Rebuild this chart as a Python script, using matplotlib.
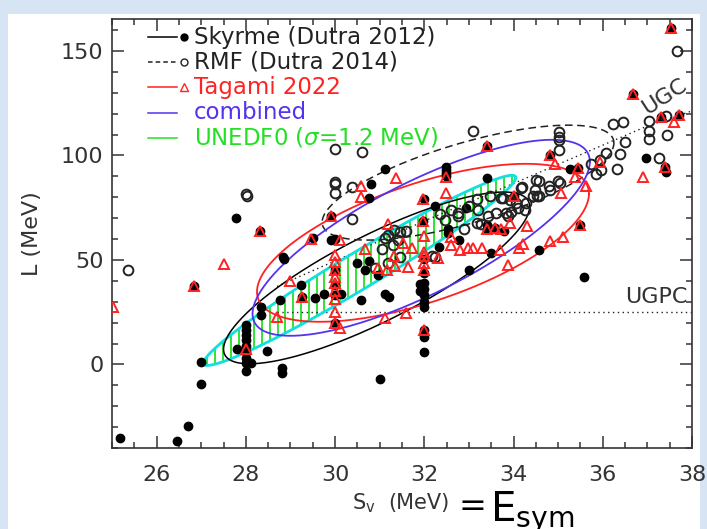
import numpy as np
import matplotlib
matplotlib.use('Agg')
import matplotlib.pyplot as plt
from matplotlib.patches import Rectangle
from matplotlib.ticker import MultipleLocator

plt.rcParams['font.family'] = ['DejaVu Sans']

# Skyrme (Dutra 2012): S_v, L  (MeV)
sky_sv = [25.18, 26.45, 26.70, 27.00, 27.00, 27.79, 27.81, 28.0, 28.0, 28.0, 28.0, 28.0,
          28.0, 28.0, 28.0, 28.0, 28.11, 28.32, 28.35, 28.35, 28.47, 28.8, 28.8, 28.76,
          28.84, 28.86, 29.23, 29.26, 29.5, 29.54, 29.76, 29.91, 29.99, 29.9, 30.0, 30.0,
          30.0, 30.0, 30.14, 30.5, 30.66, 30.77, 30.96, 30.57, 30.77, 30.81, 31.13, 31.0,
          31.11, 31.2, 31.9, 31.9, 32.0, 32.0, 32.0, 32.0, 32.0, 32.0, 32.0, 32.0, 32.0,
          31.97, 32.0, 32.0, 32.25, 32.33, 32.48, 32.48, 32.48, 32.48, 32.54, 32.54, 32.78,
          32.94, 33.0, 33.4, 33.41, 33.41, 33.4, 33.5, 33.58, 33.78, 34.0, 34.58, 34.81,
          35.26, 35.44, 35.5, 35.58, 36.68, 36.98, 37.4, 37.42, 37.54, 37.31, 37.71, 26.83]
sky_L = [-35.0, -36.7, -29.3, -9.6, 1.0, 70.0, 7.4, 19.0, 16.5, 14.0, 11.5, 9.0,
         6.0, 3.0, 0.7, -3.1, 0.6, 63.9, 27.7, 23.7, 6.5, -1.8, -4.2, 30.9,
         51.6, 50.4, 38.0, 32.5, 60.4, 31.7, 33.8, 59.6, 59.8, 70.8, 19.7, 45.0,
         38.0, 33.0, 33.8, 48.5, 45.3, 49.7, 42.9, 30.9, 79.6, 86.4, 93.5, -6.9,
         33.8, 32.5, 38.5, 35.0, 39.0, 36.0, 33.0, 30.0, 27.5, 16.5, 12.9, 5.8, 79.3,
         68.4, 50.4, 43.7, 75.6, 56.4, 94.5, 93.0, 91.5, 90.0, 63.0, 64.7, 59.6,
         74.8, 45.3, 104.3, 89.2, 66.6, 64.9, 53.3, 65.2, 63.9, 80.8, 54.6, 100.3,
         93.6, 94.0, 66.8, 41.8, 129.2, 98.7, 94.7, 92.0, 161.0, 118.2, 119.2, 37.7]

# RMF (Dutra 2014)
rmf_sv = [25.35, 28.01, 28.02, 29.99, 30.6, 29.99, 30.0, 30.0, 30.37, 30.39, 33.09,
          35.02, 35.02, 35.02, 35.02, 36.24, 36.45, 37.04, 37.04, 37.04, 37.41, 37.45,
          37.26, 37.67, 36.49, 36.38, 36.33, 36.08, 35.93, 35.97, 35.84, 35.73, 34.56,
          34.19, 35.0, 35.04, 34.81, 34.47, 34.44, 34.56, 34.29, 34.17, 34.53, 34.06,
          33.71, 33.91, 34.1, 33.84, 33.87, 33.76, 34.25, 34.51, 34.8, 33.19, 33.2,
          33.48, 33.17, 33.28, 33.42, 32.75, 32.75, 32.46, 32.18, 31.11, 31.18, 31.33,
          31.45, 31.6, 31.41, 31.3, 31.18, 31.45, 32.23, 30.9, 31.05, 32.35, 32.6, 33.0,
          32.9, 33.6, 33.95]
rmf_L = [45.4, 81.7, 80.7, 103.3, 101.7, 87.5, 86.5, 82.0, 85.0, 69.5, 111.5,
         111.2, 109.0, 107.5, 102.7, 115.0, 115.8, 116.3, 111.8, 108.0, 118.7, 109.9,
         99.0, 150.0, 106.4, 100.7, 93.6, 101.4, 97.6, 93.2, 91.1, 95.9, 88.0,
         84.7, 88.0, 86.8, 83.6, 83.6, 80.4, 80.4, 77.2, 84.6, 80.4, 77.2,
         79.6, 78.8, 74.8, 72.4, 70.8, 79.6, 74.0, 88.4, 85.2, 79.1, 74.0,
         80.4, 67.6, 67.4, 70.8, 72.4, 70.8, 69.2, 52.0, 60.4, 62.0, 64.4,
         63.6, 63.9, 59.6, 57.2, 48.5, 51.6, 51.6, 46.0, 55.0, 72.0, 74.0, 76.0,
         65.0, 72.5, 73.0]

# Tagami 2022
tag_sv = [25.03, 26.83, 27.52, 28.0, 28.32, 28.69, 29.0, 29.26, 29.45, 29.9, 30.11,
          30.0, 30.0, 30.0, 30.0, 30.0, 30.0, 30.0, 30.0, 30.0, 30.12, 30.59, 30.59,
          30.67, 30.97, 31.16, 31.13, 31.58, 31.19, 31.33, 31.35, 31.63, 31.37, 31.52,
          31.73, 31.98, 31.97, 32.0, 32.0, 32.0, 32.0, 32.0, 32.0, 32.3, 32.49, 32.49,
          32.6, 32.6, 32.8, 32.98, 33.09, 33.3, 33.4, 33.4, 33.58, 33.73, 33.69, 33.88,
          33.91, 34.0, 34.12, 34.21, 34.3, 34.81, 35.1, 34.81, 34.94, 35.07, 35.44,
          35.37, 35.5, 35.62, 35.93, 36.68, 36.9, 37.31, 37.6, 37.71, 37.4, 37.54]
tag_L = [27.7, 37.7, 48.1, 7.4, 63.9, 22.9, 39.7, 32.5, 60.2, 70.8, 59.5,
         52.4, 49.0, 45.3, 42.0, 38.8, 35.0, 31.5, 25.1, 19.7, 17.5, 85.2, 80.1,
         55.0, 46.2, 45.3, 22.4, 24.5, 67.1, 51.8, 47.2, 46.6, 89.1, 58.2,
         55.8, 79.3, 68.4, 61.4, 54.0, 51.8, 48.5, 45.3, 16.5, 50.9, 89.5, 82.0,
         61.2, 57.2, 54.8, 55.6, 55.6, 55.6, 104.3, 64.9, 65.2, 64.9, 54.6, 47.5,
         67.6, 80.8, 55.9, 57.7, 66.2, 59.0, 60.8, 100.3, 96.0, 82.2, 94.0,
         89.9, 66.8, 85.6, 97.1, 129.2, 89.7, 118.2, 115.8, 119.2, 94.7, 161.0]

# error ellipses: centre S_v, centre L, spread S_v, spread L, correlation
ell_skyrme = (30.93, 41.4, 3.43, 41.1, 0.83)
ell_rmf = (32.98, 87.0, 3.27, 27.5, 0.69)
ell_tagami = (31.97, 58.2, 3.72, 37.8, 0.62)
ell_combined = (31.93, 60.6, 3.78, 46.9, 0.776)
ell_unedf0 = (30.55, 45.0, 3.50, 45.5, 0.975)

# unitary gas constraints
ugc_sv = [28.7, 30.1, 32.04, 33.76, 36.98, 38.0]
ugc_L = [37.3, 50.5, 69.0, 84.4, 113.9, 121.3]
ugpc_sv = [28.7, 38.0]
ugpc_L = [25.3, 25.3]


def ellipse(cx, cy, sx, sy, rho, n=400):
    t = np.linspace(0, 2 * np.pi, n)
    x = cx + sx * np.cos(t)
    y = cy + sy * (rho * np.cos(t) + np.sqrt(1 - rho ** 2) * np.sin(t))
    return x, y


def hatch(ax, cx, cy, sx, sy, rho, step, **kw):
    xs = np.arange(cx - sx + step / 2, cx + sx, step)
    c = (xs - cx) / sx
    s = np.sqrt(1 - c ** 2)
    r = np.sqrt(1 - rho ** 2)
    ax.vlines(xs, cy + sy * (rho * c - r * s), cy + sy * (rho * c + r * s), **kw)


fig = plt.figure(figsize=(7.07, 5.29), dpi=100)
fig.patch.set_facecolor('#d6e4f3')
fig.patches.append(Rectangle((8 / 707, 0), 692 / 707, 515 / 529, transform=fig.transFigure,
                             facecolor='white', edgecolor='none', zorder=-10))
ax = fig.add_axes([112 / 707, 81 / 529, 580 / 707, 429 / 529])
ax.set_zorder(1)
ax.set_facecolor('white')

green = '#22e022'
cyan = '#10e0e0'
blue = '#5533ee'
red = '#ff2222'

hatch(ax, *ell_unedf0, 0.175, colors=green, lw=1.3, zorder=2)
x, y = ellipse(*ell_unedf0)
ax.plot(x, y, color=cyan, lw=2.0, zorder=3)
x, y = ellipse(*ell_skyrme)
ax.plot(x, y, color='black', lw=1.1, zorder=3)
x, y = ellipse(*ell_rmf)
ax.plot(x, y, color='#222222', lw=1.1, ls=(0, (5, 3)), zorder=3)
x, y = ellipse(*ell_tagami)
ax.plot(x, y, color=red, lw=1.3, zorder=3)
x, y = ellipse(*ell_combined)
ax.plot(x, y, color=blue, lw=1.3, zorder=3)

ax.plot(ugc_sv, ugc_L, color='#222222', lw=1.0, ls=(0, (1, 2.5)), zorder=2)
ax.plot(ugpc_sv, ugpc_L, color='#222222', lw=1.0, ls=(0, (1, 2.5)), zorder=2)

ax.plot(sky_sv, sky_L, 'o', color='black', ms=6, zorder=4)
ax.plot(rmf_sv, rmf_L, 'o', mfc='none', mec='#222222', mew=1.4, ms=7, zorder=5)
ax.plot(tag_sv, tag_L, '^', mfc='none', mec=red, mew=1.4, ms=7.5, zorder=6)

ax.text(37.39, 128, 'UGC', rotation=33, fontsize=16, color='#333333',
        ha='center', va='center')
ax.text(37.9, 27.5, 'UGPC', fontsize=16, color='#333333', ha='right', va='bottom')

ax.set_xlim(25, 38)
ax.set_ylim(-40, 165.3)
ax.xaxis.set_major_locator(MultipleLocator(2))
ax.xaxis.set_minor_locator(MultipleLocator(0.5))
ax.yaxis.set_major_locator(MultipleLocator(50))
ax.yaxis.set_minor_locator(MultipleLocator(10))
ax.tick_params(which='both', direction='in', top=True, right=True, colors='#333333',
               labelsize=16, width=1.1)
ax.tick_params(which='major', length=8.5)
ax.tick_params(which='minor', length=4.3)
ax.tick_params(axis='x', pad=12)
ax.tick_params(axis='y', pad=6)
for sp in ax.spines.values():
    sp.set_linewidth(1.2)
    sp.set_color('#333333')
ax.set_ylabel('L (MeV)', fontsize=16, color='#333333', labelpad=14)

# legend drawn by hand to keep marker at the end of the line sample
rows = [0.958, 0.900, 0.841, 0.782, 0.723]
labels = ['Skyrme (Dutra 2012)', 'RMF (Dutra 2014)', 'Tagami 2022', 'combined',
          'UNEDF0 ($\\sigma$=1.2 MeV)']
lcolors = ['black', '#222222', red, blue, green]
tcolors = ['#222222', '#222222', red, blue, green]
lstyles = ['-', (0, (3, 2)), '-', '-', '-']
markers = [dict(marker='o', color='black', ms=5),
           dict(marker='o', mfc='white', mec='#222222', mew=1.0, ms=5),
           dict(marker='^', mfc='white', mec=red, mew=1.0, ms=5.5), None, None]
for yr, lab, lc, tc, ls, mk in zip(rows, labels, lcolors, tcolors, lstyles, markers):
    ax.plot([0.062, 0.112], [yr, yr], color=lc, ls=ls, lw=1.1, transform=ax.transAxes)
    if mk:
        ax.plot([0.124], [yr], ls='none', transform=ax.transAxes, **mk)
    ax.text(0.141, yr, lab, color=tc, fontsize=16.5, va='center', ha='left',
            transform=ax.transAxes)

# x axis title: S_v (MeV) = E_sym
fig.text(352 / 707, 1 - 503 / 529, 'S$_\\mathrm{v}$', fontsize=15, color='#333333',
         ha='left', va='center')
fig.text(388 / 707, 1 - 503 / 529, '(MeV)', fontsize=15, color='#333333',
         ha='left', va='center')
fig.text(459 / 707, 1 - 506 / 529, '=', fontsize=24, color='black',
         ha='left', va='center')
fig.text(490 / 707, 1 - 521 / 529, 'E$_\\mathrm{sym}$', fontsize=29, color='black',
         ha='left', va='baseline')

fig.savefig('out.png', dpi=100, facecolor=fig.get_facecolor())
